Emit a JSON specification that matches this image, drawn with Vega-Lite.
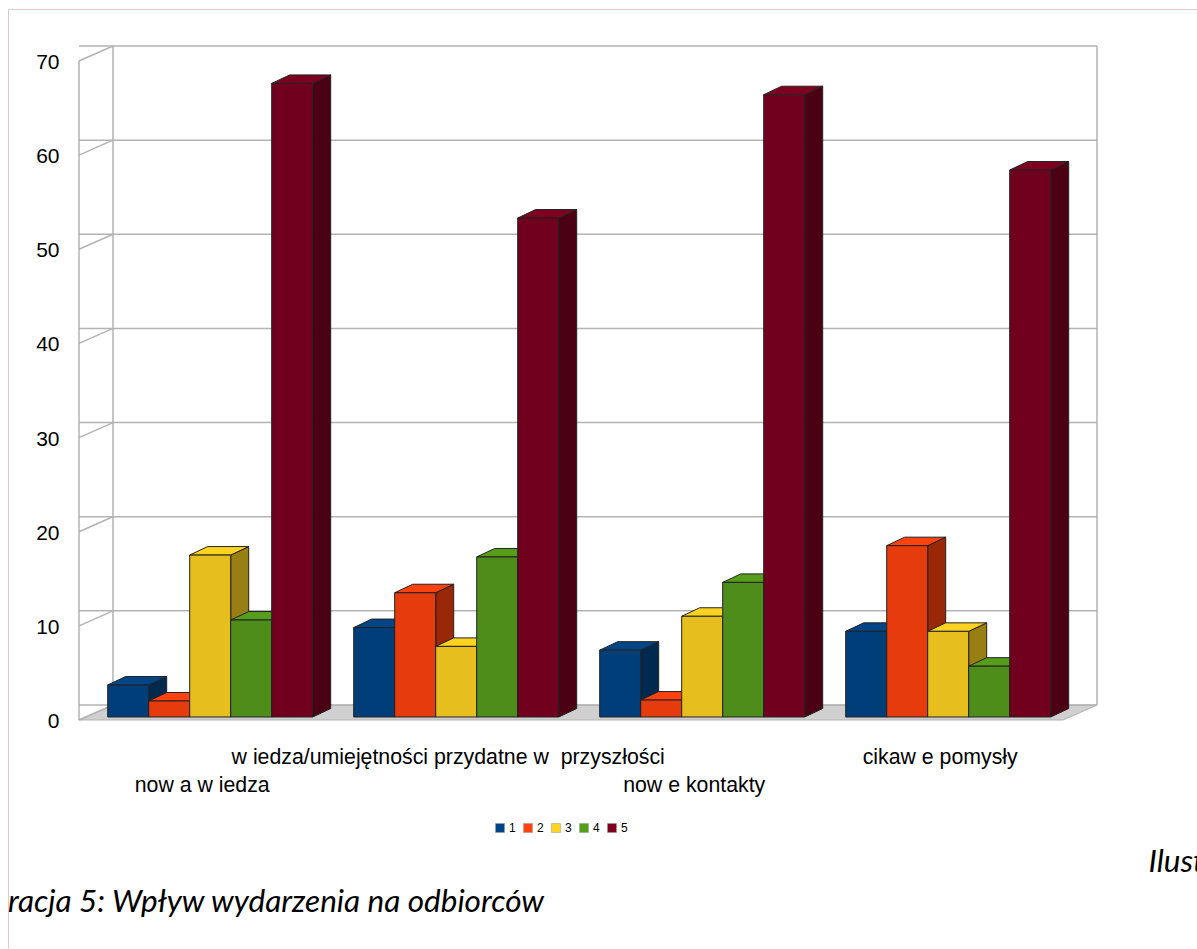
{"$schema":"https://vega.github.io/schema/vega-lite/v6.json","autosize":{"type":"none"},"padding":{"left":79,"top":61,"right":134,"bottom":229},"width":984,"height":659,"background":"white","view":{"stroke":null},
"title":{"text":"racja 5: Wpływ wydarzenia na odbiorców","orient":"bottom","anchor":"start","frame":"group","dx":-71,"dy":-41,"offset":2,"font":"Lato","fontStyle":"italic","fontWeight":"normal","fontSize":31.5,"color":"#000000","baseline":"alphabetic"},
"datasets":{"bars":[
{"group":"now a w iedza","series":"1","value":3.4},{"group":"now a w iedza","series":"2","value":1.7},{"group":"now a w iedza","series":"3","value":17.2},{"group":"now a w iedza","series":"4","value":10.3},{"group":"now a w iedza","series":"5","value":67.3},
{"group":"w iedza/umiejętności przydatne w  przyszłości","series":"1","value":9.5},{"group":"w iedza/umiejętności przydatne w  przyszłości","series":"2","value":13.2},{"group":"w iedza/umiejętności przydatne w  przyszłości","series":"3","value":7.5},{"group":"w iedza/umiejętności przydatne w  przyszłości","series":"4","value":17},{"group":"w iedza/umiejętności przydatne w  przyszłości","series":"5","value":53},
{"group":"now e kontakty","series":"1","value":7.1},{"group":"now e kontakty","series":"2","value":1.8},{"group":"now e kontakty","series":"3","value":10.7},{"group":"now e kontakty","series":"4","value":14.3},{"group":"now e kontakty","series":"5","value":66.1},
{"group":"cikaw e pomysły","series":"1","value":9.1},{"group":"cikaw e pomysły","series":"2","value":18.2},{"group":"cikaw e pomysły","series":"3","value":9.1},{"group":"cikaw e pomysły","series":"4","value":5.4},{"group":"cikaw e pomysły","series":"5","value":58.1}],
"ticks":[{"tick":0},{"tick":10},{"tick":20},{"tick":30},{"tick":40},{"tick":50},{"tick":60},{"tick":70}],
"one":[{"tick":0}]},
"data":{"name":"bars"},
"resolve":{"scale":{"color":"independent"}},
"layer":[
{"data":{"name":"one"},"mark":{"type":"point","shape":"M-562.5 558 L-562.5 -381 L626 -381","size":4,"filled":false,"stroke":"#e2c9c9","strokeWidth":1,"opacity":1},"encoding":{}},
{"data":{"name":"one"},"mark":{"type":"point","shape":"M-492 0 L492 0 L526 -15 L-458 -15 Z","size":4,"filled":true,"fill":"#d0d0d0","stroke":"#b3b3b3","strokeWidth":1.2,"opacity":1},"encoding":{"y":{"field":"tick","type":"quantitative","scale":{"domain":[0,70]},"axis":{"title":null,"domain":false,"ticks":false,"grid":false,"values":[0,10,20,30,40,50,60,70],"labelFont":"Liberation Sans","labelFontSize":21,"labelColor":"#000000","labelPadding":20,"labelOffset":1.5}}}},
{"data":{"name":"ticks"},"mark":{"type":"rule","color":"#b3b3b3","strokeWidth":1.5,"xOffset":34,"x2Offset":34,"yOffset":-15},"encoding":{"y":{"field":"tick","type":"quantitative"}}},
{"data":{"name":"ticks"},"mark":{"type":"point","shape":"M-492 0 L-458 -15","size":4,"filled":false,"stroke":"#b3b3b3","strokeWidth":1.5,"opacity":1},"encoding":{"y":{"field":"tick","type":"quantitative"}}},
{"data":{"name":"one"},"mark":{"type":"point","shape":"M-492 0 L-492 -659 M-458 -15 L-458 -674 M526 -15 L526 -674","size":4,"filled":false,"stroke":"#b3b3b3","strokeWidth":1.5,"opacity":1},"encoding":{"y":{"field":"tick","type":"quantitative"}}},
{"mark":{"type":"point","size":4,"filled":true,"stroke":"#222222","strokeWidth":1,"opacity":1,"yOffset":-3},
 "encoding":{"x":{"field":"group","type":"nominal","sort":["now a w iedza","w iedza/umiejętności przydatne w  przyszłości","now e kontakty","cikaw e pomysły"],"scale":{"paddingInner":0.16667,"paddingOuter":0.08333,"align":0.7},
   "axis":{"domain":false,"ticks":false,"labelAngle":0,"labelFont":"Liberation Sans","labelFontSize":21.3,"labelColor":"#000000","labelPadding":26,"labelOffset":-8,"labelLimit":800,"labelOverlap":false,"labelLineHeight":28,"labelExpr":"datum.label == 'now a w iedza' || datum.label == 'now e kontakty' ? ['', datum.label] : replace(datum.label, 'w  p', 'w \u00a0p')",
   "title":"Ilust","titleFont":"Lato","titleFontStyle":"italic","titleFontWeight":"normal","titleFontSize":31.5,"titleColor":"#000000","titleAlign":"left","titleBaseline":"alphabetic","titleX":1069,"titleY":151}},
  "xOffset":{"field":"series","type":"nominal","scale":{"paddingInner":0,"paddingOuter":0}},"y":{"field":"value","type":"quantitative","stack":null},
  "shape":{"field":"value","type":"nominal","legend":null,"scale":{"domain":[3.4,1.7,17.2,10.3,67.3,9.5,13.2,7.5,17,53,7.1,1.8,10.7,14.3,66.1,9.1,18.2,5.4,58.1],"range":[
"M20.5 0 L38.5 -8.5 L38.5 23.5 L20.5 32 Z","M20.5 0 L38.5 -8.5 L38.5 7.5 L20.5 16 Z","M20.5 0 L38.5 -8.5 L38.5 153.4 L20.5 161.9 Z","M20.5 0 L38.5 -8.5 L38.5 88.5 L20.5 97 Z","M20.5 0 L38.5 -8.5 L38.5 625.1 L20.5 633.6 Z",
"M20.5 0 L38.5 -8.5 L38.5 80.9 L20.5 89.4 Z","M20.5 0 L38.5 -8.5 L38.5 115.8 L20.5 124.3 Z","M20.5 0 L38.5 -8.5 L38.5 62.1 L20.5 70.6 Z","M20.5 0 L38.5 -8.5 L38.5 151.5 L20.5 160 Z","M20.5 0 L38.5 -8.5 L38.5 490.5 L20.5 499 Z",
"M20.5 0 L38.5 -8.5 L38.5 58.3 L20.5 66.8 Z","M20.5 0 L38.5 -8.5 L38.5 8.4 L20.5 16.9 Z","M20.5 0 L38.5 -8.5 L38.5 92.2 L20.5 100.7 Z","M20.5 0 L38.5 -8.5 L38.5 126.1 L20.5 134.6 Z","M20.5 0 L38.5 -8.5 L38.5 613.8 L20.5 622.3 Z",
"M20.5 0 L38.5 -8.5 L38.5 77.2 L20.5 85.7 Z","M20.5 0 L38.5 -8.5 L38.5 162.8 L20.5 171.3 Z","M20.5 0 L38.5 -8.5 L38.5 42.3 L20.5 50.8 Z","M20.5 0 L38.5 -8.5 L38.5 538.5 L20.5 547 Z"]}},
  "color":{"field":"series","type":"nominal","scale":{"domain":["1","2","3","4","5"],"range":["#002950","#992808","#997e13","#345e11","#4c0014"]},"legend":null}}},
{"mark":{"type":"point","shape":"M-20.5 0 L20.5 0 L38.5 -8.5 L-2.5 -8.5 Z","size":4,"filled":true,"stroke":"#222222","strokeWidth":1,"opacity":1,"yOffset":-3},
 "encoding":{"x":{"field":"group","type":"nominal","sort":["now a w iedza","w iedza/umiejętności przydatne w  przyszłości","now e kontakty","cikaw e pomysły"]},"xOffset":{"field":"series","type":"nominal"},"y":{"field":"value","type":"quantitative","stack":null},
  "color":{"field":"series","type":"nominal","scale":{"domain":["1","2","3","4","5"],"range":["#004586","#ff420e","#ffd320","#579d1c","#7e0021"]},
   "legend":{"title":null,"orient":"none","direction":"horizontal","legendX":415,"legendY":761,"symbolType":"square","symbolSize":81,"symbolStrokeColor":"#999999","symbolStrokeWidth":0.5,"labelFont":"Liberation Sans","labelFontSize":12,"labelColor":"#000000","labelOffset":3,"columnPadding":6}}}},
{"mark":{"type":"bar","yOffset":-3,"y2Offset":-3,"stroke":"#222222","strokeWidth":1},
 "encoding":{"x":{"field":"group","type":"nominal","sort":["now a w iedza","w iedza/umiejętności przydatne w  przyszłości","now e kontakty","cikaw e pomysły"]},"xOffset":{"field":"series","type":"nominal"},"y":{"field":"value","type":"quantitative","stack":null},"y2":{"datum":0},
  "color":{"field":"series","type":"nominal","scale":{"domain":["1","2","3","4","5"],"range":["#003e79","#e63b0d","#e6be1d","#4e8d19","#71001e"]},"legend":null}}}
]}
